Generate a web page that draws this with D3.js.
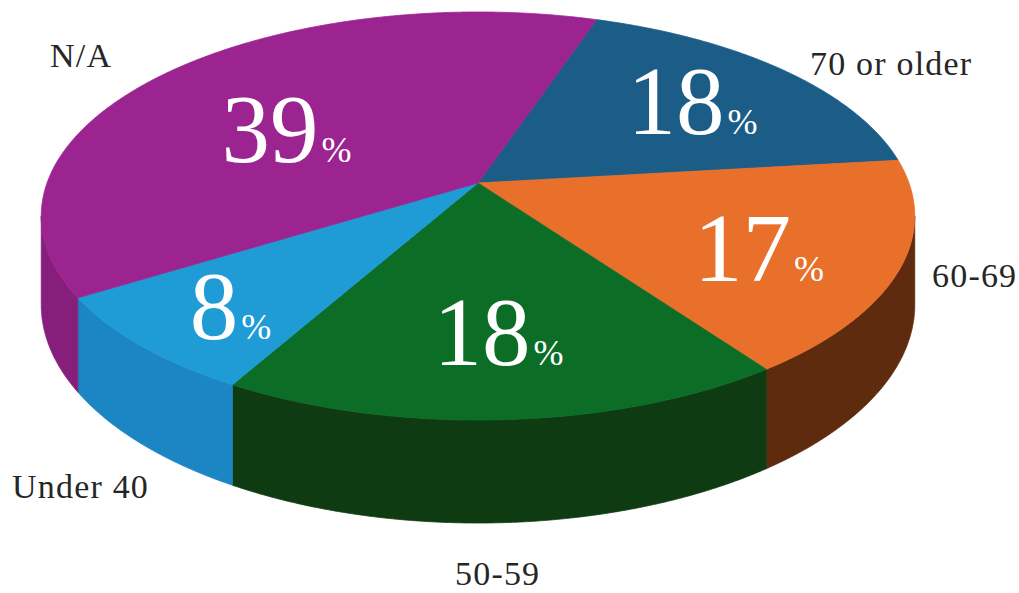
<!DOCTYPE html>
<html>
<head>
<meta charset="utf-8">
<script src="https://cdn.jsdelivr.net/npm/d3@7/dist/d3.min.js"></script>
<style>
  html, body { margin: 0; padding: 0; background: #ffffff; }
  svg { display: block; }
</style>
</head>
<body>
<svg id="chart" width="1019" height="593"></svg>
<script>
// ---- data ----
const categories = ["70 or older", "60-69", "50-59", "Under 40", "N/A"];
const values = [18, 17, 18, 8, 39];
const topColors = ["#1c5d88", "#e8702b", "#0c6d27", "#1f9bd6", "#9c2490"];
const sideColors = ["#143f5e", "#5e2b0f", "#0f3b12", "#1b86c3", "#861f7c"];

// ---- layout ----
const W = 1019, H = 593;
const cx = 478, cy = 183;       // apex of the pie on screen
const ax = 431, bz = 198.7;     // horizontal / depth scale
const k = 0.1618;               // perspective strength
const depth = 86.3;             // side wall height
const startAngle = 0.3229;      // d3 pie angle (radians, clockwise from 12 o'clock)

const svg = d3.select("#chart");

const pie = d3.pie().sort(null).value(d => d)
  .startAngle(startAngle).endAngle(startAngle + 2 * Math.PI);
const arcs = pie(values);

// project a d3-pie angle/radius (and height level: 0 top, 1 bottom) onto the screen
function proj(a, r, lvl) {
  const th = a - Math.PI / 2;
  const X = r * Math.cos(th), Z = r * Math.sin(th);
  const den = 1 - k * Z;
  return [cx + ax * X / den, cy + (bz * Z + depth * lvl) / den];
}
function arcPts(a0, a1, lvl) {
  const n = Math.max(2, Math.ceil(Math.abs(a1 - a0) / 0.005));
  return d3.range(n + 1).map(i => proj(a0 + (a1 - a0) * i / n, 1, lvl));
}
const line = d3.line();

// visible wall range (silhouette where sin(theta) = k)
const thL = Math.asin(k), thR = Math.PI - Math.asin(k);
const wallA0 = thL + Math.PI / 2, wallA1 = thR + Math.PI / 2;

const gWalls = svg.append("g");
arcs.forEach((d, i) => {
  // normalise angles into [0, 2pi + start)
  let a0 = d.startAngle, a1 = d.endAngle;
  const segs = [[a0, a1], [a0 - 2 * Math.PI, a1 - 2 * Math.PI]];
  segs.forEach(([s, e]) => {
    const lo = Math.max(s, wallA0), hi = Math.min(e, wallA1);
    if (hi > lo) {
      const pts = arcPts(lo, hi, 0).concat(arcPts(hi, lo, 1));
      gWalls.append("path")
        .attr("d", line(pts) + "Z")
        .attr("fill", sideColors[i])
        .attr("stroke", sideColors[i])
        .attr("stroke-width", 0.8);
    }
  });
});

const gTop = svg.append("g");
arcs.forEach((d, i) => {
  const pts = [[cx, cy]].concat(arcPts(d.startAngle, d.endAngle, 0));
  gTop.append("path")
    .attr("d", line(pts) + "Z")
    .attr("fill", topColors[i])
    .attr("stroke", topColors[i])
    .attr("stroke-width", 0.8)
    .attr("stroke-linejoin", "round");
});

// ---- percentage labels ----
const labelR = [0.7, 0.7, 0.7, 0.78, 0.6];
const labelNudge = [[-4, 0], [-8, 6], [2, -8], [8, 0], [0, 16]];
const gLab = svg.append("g").attr("font-family", "'Liberation Serif', 'Times New Roman', serif").attr("fill", "#ffffff");
arcs.forEach((d, i) => {
  const mid = (d.startAngle + d.endAngle) / 2;
  const p = proj(mid, labelR[i], 0);
  const t = gLab.append("text")
    .attr("x", p[0] + labelNudge[i][0])
    .attr("y", p[1] + labelNudge[i][1] + 33)
    .attr("text-anchor", "middle");
  t.append("tspan").attr("font-size", 97).text(values[i]);
  t.append("tspan").attr("font-size", 36).attr("dx", 3).text("%");
});

// ---- category labels ----
const catPos = [[810, 75], [932, 287], [455, 585], [12, 498], [50, 67]];
const gCat = svg.append("g")
  .attr("font-family", "'Liberation Serif', 'Times New Roman', serif")
  .attr("font-size", 34).attr("fill", "#262626");
categories.forEach((c, i) => {
  gCat.append("text")
    .attr("x", catPos[i][0]).attr("y", catPos[i][1])
    .attr("letter-spacing", 1.2)
    .text(c);
});
</script>
</body>
</html>
